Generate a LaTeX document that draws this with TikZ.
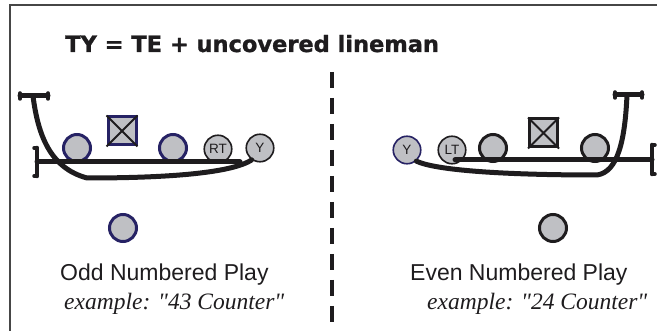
\documentclass[tikz,border=0pt]{standalone}
\usepackage{fontspec}
\newfontfamily\arialf{Liberation Sans}
\newfontfamily\timesf{Liberation Serif}
\newfontfamily\titlef{DejaVu Sans}[BoldFeatures={FakeBold=1.2}]
\definecolor{fillgray}{RGB}{191,192,196}
\definecolor{navy}{RGB}{38,34,100}
\definecolor{ink}{RGB}{30,28,30}
\definecolor{framec}{RGB}{70,70,70}
\begin{document}
\begin{tikzpicture}[x=1pt,y=-1pt,
  thickp/.style={circle,fill=fillgray,minimum size=27pt,inner sep=0pt,line width=3pt},
  labp/.style={circle,fill=fillgray,draw=ink,minimum size=27.5pt,inner sep=0pt,line width=1.6pt,
    font=\arialf\fontsize{13.5}{13.5}\selectfont,text=ink},
  ctr/.style={rectangle,fill=fillgray,minimum size=28pt,inner sep=0pt,line width=3pt},
  route/.style={line width=5pt,line cap=round,line join=round,draw=ink},
  cross/.style={line width=2pt,draw=ink},
  tick/.style={line width=4.5pt,line cap=round,draw=ink},
  lbl/.style={anchor=base west,inner sep=0pt,text=ink}]
\useasboundingbox (0,0) rectangle (657,331);
% frame
\draw[framec,line width=1.6pt] (10,331) -- (10,5) -- (657,5);
% title
\node[lbl,font=\titlef\bfseries\fontsize{22.5}{26}\selectfont] (title) at (65,52) {TY = TE + uncovered lineman};
% divider
\coordinate (dvT) at (332,72);
\coordinate (dvB) at (332,331);
\draw[ink,line width=3.5pt,dash pattern=on 16pt off 10pt] (dvT) -- (dvB);

% ---------- left play ----------
\node[thickp,draw=navy] (lg) at (77,148) {};
\node[ctr,draw=navy] (lc) at (122,131) {};
\draw[cross] (lc.north west) -- (lc.south east) (lc.north east) -- (lc.south west);
\node[thickp,draw=navy] (lgr) at (173,148) {};
\node[labp] (rt) at (218,149) {RT};
\node[labp] (yL) at (260,148) {Y};
\node[thickp,draw=navy] (lb) at (123,228) {};
% LOS and bracket
\coordinate (losL1) at (37,162);
\coordinate (losL2) at (240,162);
\coordinate (lbT) at (37,148);
\coordinate (lbB) at (37,176);
\draw[route] (losL1) -- (losL2);
\draw[tick] (lbT) -- (lbB);
\draw[tick,line width=3.5pt] (34,148) -- (37,148) (34,176) -- (37,176);
% T bar
\coordinate (tbL1) at (20,96);
\coordinate (tbL2) at (48,96);
\coordinate (tL) at (33,96);
\draw[route] (tbL1) -- (tbL2);
\draw[tick,line width=3.5pt] (20,93) -- (20,99) (48,93) -- (48,99);
% route to Y
\draw[route] (tL) .. controls (38,135) and (50,168) .. (87,178)
  .. controls (160,178) and (230,174) .. (yL.235);

% ---------- right play ----------
\node[labp,draw=navy] (yR) at (407,150) {Y};
\node[labp] (lt) at (452,150) {LT};
\node[thickp,draw=ink] (rg) at (493,148) {};
\node[ctr,draw=ink] (rc) at (543.5,133) {};
\draw[cross] (rc.north west) -- (rc.south east) (rc.north east) -- (rc.south west);
\node[thickp,draw=ink] (rgr) at (595,148) {};
\node[thickp,draw=ink] (rb) at (553,228) {};
% LOS and bracket
\coordinate (losR1) at (455,160);
\coordinate (losR2) at (652,160);
\coordinate (rbT) at (652,145);
\coordinate (rbB) at (652,174);
\draw[route] (losR1) -- (losR2);
\draw[tick] (rbT) -- (rbB);
\draw[tick,line width=3.5pt] (652,145) -- (655,145) (652,174) -- (655,174);
% T bar
\coordinate (tbR1) at (615,95);
\coordinate (tbR2) at (642,95);
\coordinate (tR) at (627,95);
\draw[route] (tbR1) -- (tbR2);
\draw[tick,line width=3.5pt] (615,92) -- (615,98) (642,92) -- (642,98);
\draw[route] (tR) .. controls (625,140) and (618,172) .. (597,175)
  .. controls (500,175) and (435,170) .. (yR.-50);

% ---------- captions ----------
\node[lbl,font=\arialf\fontsize{23}{27}\selectfont] (oddt) at (60,281) {Odd Numbered Play};
\node[lbl,font=\timesf\itshape\fontsize{23.5}{27}\selectfont] (oddx) at (64,310) {example: "43 Counter"};
\node[lbl,font=\arialf\fontsize{23}{27}\selectfont] (event) at (410,281) {Even Numbered Play};
\node[lbl,font=\timesf\itshape\fontsize{23.5}{27}\selectfont] (evenx) at (427,310) {example: "24 Counter"};
\end{tikzpicture}
\end{document}
